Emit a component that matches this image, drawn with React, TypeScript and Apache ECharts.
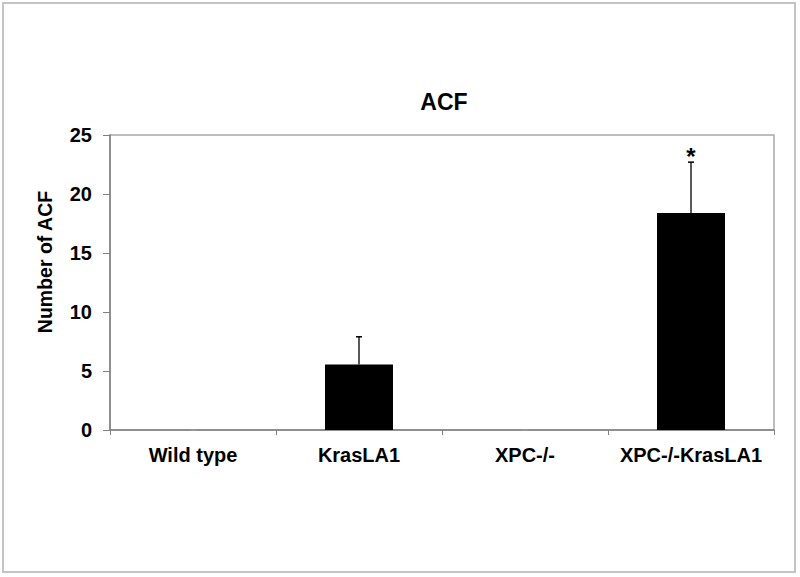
import React, { useEffect, useRef } from "react";
import * as echarts from "echarts";

const categories = ["Wild type", "KrasLA1", "XPC-/-", "XPC-/-KrasLA1"];
const meanValues = [0, 5.55, 0, 18.4];
const errorValues = [0, 2.35, 0, 4.3];
const significance = ["", "", "", "*"];
const yMin = 0;
const yMax = 25;
const yStep = 5;
const titleText = "ACF";
const yAxisTitle = "Number of ACF";

const FONT = "'Liberation Sans', Arial, sans-serif";

export default function App() {
  const ref = useRef<HTMLDivElement | null>(null);

  useEffect(() => {
    if (!ref.current) return;
    const chart = echarts.init(ref.current, undefined, { renderer: "svg" });
    const errData = categories.map((_, i) => [i, meanValues[i], errorValues[i]]);

    chart.setOption({
      animation: false,
      backgroundColor: "#ffffff",
      grid: {
        left: 110,
        right: 26,
        top: 135,
        bottom: 147,
        show: true,
        borderColor: "#a8a8a8",
        borderWidth: 1.5,
        backgroundColor: "transparent",
      },
      graphic: [
        {
          type: "rect",
          shape: { x: 3, y: 3, width: 792, height: 569 },
          style: { fill: "none", stroke: "#c4c4c4", lineWidth: 2 },
          silent: true,
        },
        {
          type: "text",
          x: 444,
          y: 102,
          style: {
            text: titleText,
            font: `bold 23px ${FONT}`,
            fill: "#000",
            textAlign: "center",
            textVerticalAlign: "middle",
          },
        },
        {
          type: "text",
          x: 45,
          y: 262,
          rotation: Math.PI / 2,
          style: {
            text: yAxisTitle,
            font: `bold 19.5px ${FONT}`,
            fill: "#000",
            textAlign: "center",
            textVerticalAlign: "middle",
          },
        },
      ],
      xAxis: {
        type: "category",
        data: categories,
        boundaryGap: true,
        axisLine: { show: true, lineStyle: { color: "#808080", width: 1.5 } },
        axisTick: { show: true, alignWithLabel: false, length: 5, lineStyle: { color: "#808080" } },
        axisLabel: {
          color: "#000",
          fontWeight: "bold",
          fontSize: 20,
          fontFamily: FONT,
          margin: 15,
          interval: 0,
        },
        splitLine: { show: false },
      },
      yAxis: {
        type: "value",
        min: yMin,
        max: yMax,
        interval: yStep,
        axisLine: { show: true, lineStyle: { color: "#808080", width: 1.5 } },
        axisTick: { show: true, length: 7, lineStyle: { color: "#808080" } },
        axisLabel: {
          color: "#000",
          fontWeight: "bold",
          fontSize: 20,
          fontFamily: FONT,
          margin: 18,
        },
        splitLine: { show: false },
      },
      series: [
        {
          type: "bar",
          data: meanValues,
          barWidth: 68,
          itemStyle: { color: "#000000" },
        },
        {
          type: "custom",
          data: errData,
          encode: { x: 0, y: 1 },
          z: 5,
          renderItem: (params: any, api: any) => {
            const i = api.value(0);
            const v = api.value(1);
            const e = api.value(2);
            const base = api.coord([i, v]);
            const top = api.coord([i, v + e]);
            const children: any[] = [
              {
                type: "line",
                shape: { x1: base[0], y1: base[1], x2: top[0], y2: top[1] },
                style: { stroke: "#000", lineWidth: 1.3 },
              },
              {
                type: "line",
                shape: { x1: top[0] - 3, y1: top[1], x2: top[0] + 3, y2: top[1] },
                style: { stroke: e > 0 ? "#000" : "#999", lineWidth: 1.5 },
              },
            ];
            const s = significance[params.dataIndex];
            if (s) {
              children.push({
                type: "text",
                x: top[0],
                y: top[1] - 6,
                style: {
                  text: s,
                  font: `bold 24px ${FONT}`,
                  fill: "#000",
                  textAlign: "center",
                  textVerticalAlign: "middle",
                },
              });
            }
            return { type: "group", children };
          },
        },
      ],
    });

    return () => chart.dispose();
  }, []);

  return (
    <div
      ref={ref}
      style={{ position: "fixed", left: 0, top: 0, width: 800, height: 577, background: "#fff" }}
    />
  );
}
